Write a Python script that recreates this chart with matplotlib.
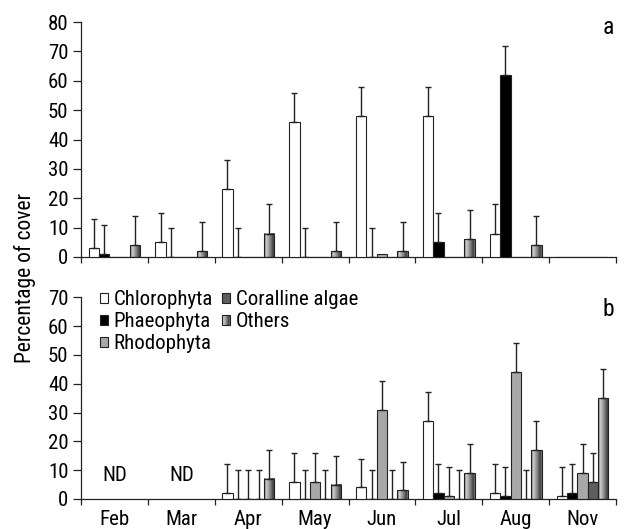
import numpy as np
import matplotlib
matplotlib.use("Agg")
import matplotlib.pyplot as plt
from matplotlib import font_manager
from matplotlib.patches import Rectangle
from matplotlib.legend_handler import HandlerBase
from matplotlib.colors import LinearSegmentedColormap

_fl = font_manager.fontManager.ttflist
_names = {f.name for f in _fl}
FS = 13.5
_chosen = None
for cand in ['Liberation Sans Narrow', 'Roboto Condensed', 'Arial Narrow', 'Open Sans Condensed']:
    if cand in _names:
        _chosen = cand
        break
if _chosen is not None:
    plt.rcParams['font.family'] = [_chosen, 'DejaVu Sans']
    FS = 15
else:
    _cond = [f for f in _fl if str(f.stretch) in ('condensed', 'semi-condensed', '62.5', '75', '87.5')
             and f.name in ('Roboto', 'Open Sans', 'Noto Sans', 'DejaVu Sans', 'Inter')]
    if _cond:
        plt.rcParams['font.family'] = [_cond[0].name, 'DejaVu Sans']
        plt.rcParams['font.stretch'] = _cond[0].stretch
        FS = 14.5
    else:
        plt.rcParams['font.family'] = ['Liberation Sans', 'DejaVu Sans']
plt.rcParams['font.weight'] = 'normal'

months = ['Feb', 'Mar', 'Apr', 'May', 'Jun', 'Jul', 'Aug', 'Nov']
series = ['Chlorophyta', 'Phaeophyta', 'Rhodophyta', 'Coralline algae', 'Others']

# Panel a
chloro_a = [3, 5, 23, 46, 48, 48, 8, 0]
chloro_a_err = [10, 10, 10, 10, 10, 10, 10, 0]
phaeo_a = [1, 0, 0, 0, 0, 5, 62, 0]
phaeo_a_err = [10, 10, 10, 10, 10, 10, 10, 0]
rhodo_a = [0, 0, 0, 0, 1, 0, 0, 0]
rhodo_a_err = [0, 0, 0, 0, 0, 0, 0, 0]
coral_a = [0, 0, 0, 0, 0, 0, 0, 0]
coral_a_err = [0, 0, 0, 0, 0, 0, 0, 0]
others_a = [4, 2, 8, 2, 2, 6, 4, 0]
others_a_err = [10, 10, 10, 10, 10, 10, 10, 0]

# Panel b (Feb, Mar: no data)
nan = np.nan
chloro_b = [nan, nan, 2, 6, 4, 27, 2, 1]
chloro_b_err = [nan, nan, 10, 10, 10, 10, 10, 10]
phaeo_b = [nan, nan, 0, 0, 0, 2, 1, 2]
phaeo_b_err = [nan, nan, 10, 10, 10, 10, 10, 10]
rhodo_b = [nan, nan, 0, 6, 31, 1, 44, 9]
rhodo_b_err = [nan, nan, 10, 10, 10, 10, 10, 10]
coral_b = [nan, nan, 0, 0, 0, 0, 0, 6]
coral_b_err = [nan, nan, 10, 10, 10, 10, 10, 10]
others_b = [nan, nan, 7, 5, 3, 9, 17, 35]
others_b_err = [nan, nan, 10, 10, 10, 10, 10, 10]

nd_label = 'ND'
nd_months = ['Feb', 'Mar']

colors = ['white', 'black', '#a8a8a8', '#5e5e5e', None]
grad_cmap = LinearSegmentedColormap.from_list(
    'cyl', [(0.0, '#4a4a4a'), (0.2, '#d0d0d0'), (0.55, '#8a8a8a'),
            (0.88, '#3a3a3a'), (1.0, '#8a8a8a')])
grad = np.linspace(0, 1, 64).reshape(1, -1)

fig = plt.figure(figsize=(6.24, 5.29), dpi=100)
axa = fig.add_axes([81/624, 1-257/529, 535/624, 235/529])
axb = fig.add_axes([81/624, 1-499/529, 535/624, 201.7/529])

width = 0.155
x = np.arange(len(months)) + 0.5


def draw_panel(ax, vals, errs, ymax):
    for k, (v, e) in enumerate(zip(vals, errs)):
        v = np.asarray(v, float)
        e = np.asarray(e, float)
        xs = x + (k - 2) * width
        m = ~np.isnan(v)
        face = colors[k] if colors[k] is not None else 'none'
        bars = ax.bar(xs[m], v[m], width=width, color=face, edgecolor='#222222',
                      linewidth=0.8, zorder=3)
        if colors[k] is None:
            for r in bars:
                if r.get_height() > 0:
                    ax.imshow(grad, cmap=grad_cmap, aspect='auto', zorder=2.5,
                              extent=[r.get_x(), r.get_x() + r.get_width(),
                                      0, r.get_height()], interpolation='bilinear')
        me = m & (e > 0)
        ax.errorbar(xs[me], v[me], yerr=[np.zeros(me.sum()), e[me]], fmt='none',
                    ecolor='#222222', elinewidth=1.0, capsize=2.5, capthick=1.0,
                    zorder=4)
    ax.set_xlim(0, len(months))
    ax.set_ylim(0, ymax)
    ax.set_yticks(np.arange(0, ymax + 1, 10))
    ax.set_xticks(np.arange(0, len(months) + 1))
    ax.set_xticklabels([])
    ax.set_xticks(x, minor=True)
    for s in ['top', 'right']:
        ax.spines[s].set_visible(False)
    for s in ['left', 'bottom']:
        ax.spines[s].set_linewidth(0.9)
        ax.spines[s].set_color('#222222')
    ax.tick_params(axis='y', which='major', direction='out', length=6,
                   width=0.9, color='#222222', labelsize=FS, pad=3)
    ax.tick_params(axis='x', which='major', direction='out', length=4,
                   width=0.9, color='#222222')
    ax.tick_params(axis='x', which='minor', length=0, labelsize=FS, pad=8)


draw_panel(axa, [chloro_a, phaeo_a, rhodo_a, coral_a, others_a],
           [chloro_a_err, phaeo_a_err, rhodo_a_err, coral_a_err, others_a_err], 80)
draw_panel(axb, [chloro_b, phaeo_b, rhodo_b, coral_b, others_b],
           [chloro_b_err, phaeo_b_err, rhodo_b_err, coral_b_err, others_b_err], 70)
axb.set_xticklabels(months, minor=True)

for mth in nd_months:
    i = months.index(mth)
    axb.text(x[i], 8.3, nd_label, ha='center', va='center', fontsize=FS)

fig.text(608/624, 1-27/529, 'a', ha='center', va='center', fontsize=FS + 2)
fig.text(608/624, 1-310/529, 'b', ha='center', va='center', fontsize=FS + 2)

fig.text(25/624, 1-278/529, 'Percentage of cover', rotation=90, ha='center',
         va='center', fontsize=FS + 0.5)


class GradHandler(HandlerBase):
    def create_artists(self, legend, orig_handle, xdescent, ydescent, width, height,
                       fontsize, trans):
        arts = []
        n = 8
        for j in range(n):
            c = grad_cmap((j + 0.5) / n)
            arts.append(Rectangle((-xdescent + j * width / n, -ydescent), width / n,
                                  height, facecolor=c, edgecolor='none', transform=trans))
        arts.append(Rectangle((-xdescent, -ydescent), width, height, facecolor='none',
                              edgecolor='#222222', linewidth=0.8, transform=trans))
        return arts


handles = [Rectangle((0, 0), 1, 1, facecolor=c, edgecolor='#222222', linewidth=0.8)
           for c in colors[:4]]
others_handle = Rectangle((0, 0), 1, 1, facecolor='gray')
handles.append(others_handle)
axb.legend(handles, series, loc='upper left', bbox_to_anchor=(0.035, 1.035), ncol=2,
           frameon=False, fontsize=FS, handlelength=0.4, handleheight=0.4,
           handletextpad=0.25, columnspacing=0.45, labelspacing=0.15, borderpad=0.0,
           borderaxespad=0.0, handler_map={others_handle: GradHandler()})

fig.savefig('out.png', dpi=100)
